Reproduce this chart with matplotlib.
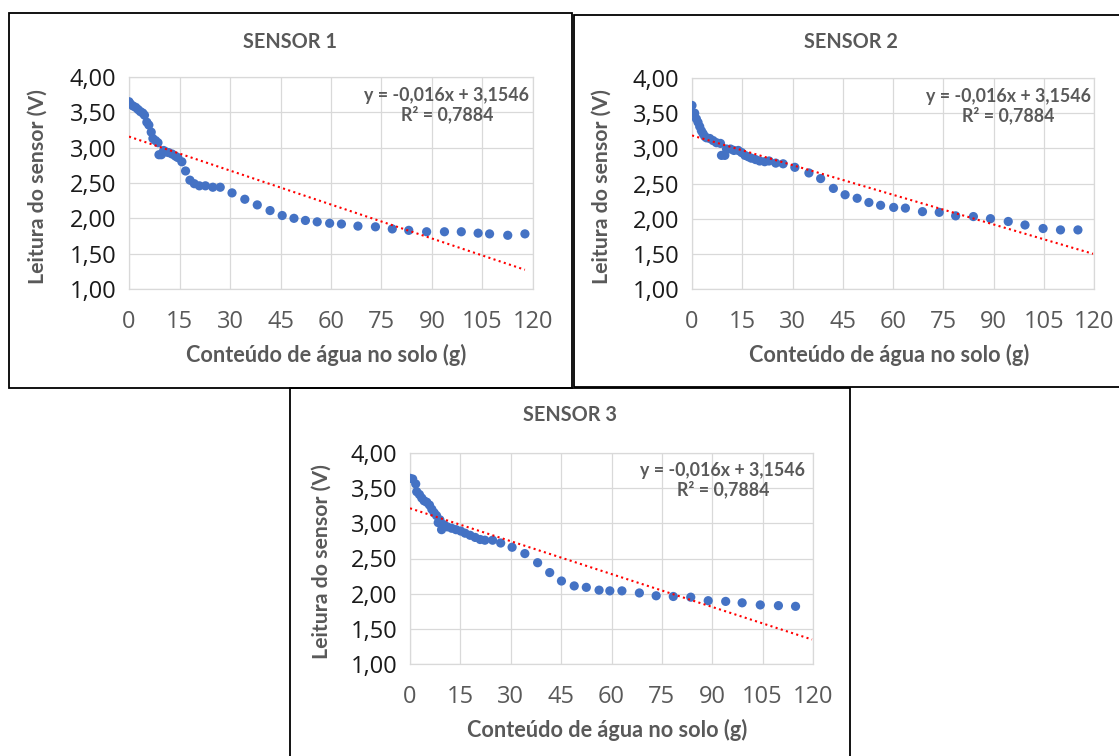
import numpy as np
import matplotlib
matplotlib.use("Agg")
import matplotlib.pyplot as plt
from matplotlib.patches import Rectangle
from matplotlib.ticker import FuncFormatter

W, H = 1119, 756
DPI = 100

# ---- data -------------------------------------------------------------
titles = ["SENSOR 1", "SENSOR 2", "SENSOR 3"]
x_label = "Conteúdo de água no solo (g)"
y_label = "Leitura do sensor (V)"
equation_text = "y = -0,016x + 3,1546\nR² = 0,7884"
x_ticks = [0, 15, 30, 45, 60, 75, 90, 105, 120]
y_ticks = [1.0, 1.5, 2.0, 2.5, 3.0, 3.5, 4.0]

s1_water = [0, 0.4, 1.2, 2.0, 2.7, 3.4, 4.1, 4.6, 5.3, 5.9, 6.6, 7.1, 7.9, 8.6,
            8.9, 9.6, 10.3, 11.0, 11.8, 12.8, 13.8, 14.5, 15.7, 16.8, 18.1,
            19.4, 20.9, 22.7, 24.9, 27.1, 30.6, 34.4, 38.1, 41.9, 45.5, 49.0,
            52.4, 55.9, 59.6, 63.1, 68.0, 73.2, 78.2, 83.1, 88.4, 93.7, 98.7,
            103.7, 107.1, 112.5, 117.6]
s1_volts = [3.65, 3.62, 3.59, 3.57, 3.54, 3.51, 3.49, 3.46, 3.36, 3.32, 3.22,
            3.13, 3.10, 3.07, 2.90, 2.90, 2.96, 2.94, 2.93, 2.91, 2.88, 2.86,
            2.80, 2.67, 2.54, 2.49, 2.46, 2.46, 2.44, 2.44, 2.36, 2.27, 2.19,
            2.11, 2.04, 2.00, 1.97, 1.95, 1.93, 1.92, 1.89, 1.88, 1.85, 1.83,
            1.81, 1.81, 1.81, 1.79, 1.78, 1.76, 1.78]

s2_water = [0, 0.8, 1.3, 1.8, 2.3, 2.8, 3.3, 3.8, 4.3, 5.3, 6.3, 7.3, 8.5, 8.8,
            9.8, 10.3, 11.5, 12.5, 13.8, 14.8, 15.8, 16.8, 17.7, 19.0, 20.2,
            21.7, 23.0, 25.0, 27.2, 30.7, 34.9, 38.4, 42.2, 45.7, 49.3, 52.8,
            56.3, 60.2, 63.7, 68.8, 73.8, 78.7, 84.0, 89.1, 94.4, 99.4, 104.8,
            110.0, 115.2]
s2_volts = [3.61, 3.50, 3.42, 3.37, 3.31, 3.25, 3.21, 3.17, 3.15, 3.14, 3.11,
            3.08, 3.07, 2.90, 2.90, 2.99, 2.99, 2.97, 2.97, 2.94, 2.90, 2.88,
            2.86, 2.84, 2.82, 2.81, 2.82, 2.79, 2.78, 2.73, 2.65, 2.57, 2.43,
            2.34, 2.29, 2.23, 2.19, 2.16, 2.15, 2.10, 2.09, 2.04, 2.03, 2.00,
            1.96, 1.91, 1.86, 1.84, 1.84]

s3_water = [0, 0.8, 1.7, 2.0, 2.8, 3.5, 4.2, 5.0, 5.8, 6.5, 7.2, 7.9, 8.4, 8.9,
            9.4, 10.1, 11.1, 12.4, 13.7, 15.1, 16.4, 17.9, 19.4, 20.9, 22.3,
            24.6, 27.0, 30.4, 34.2, 38.0, 41.6, 45.1, 48.9, 52.5, 56.3, 59.5,
            63.1, 68.3, 73.3, 78.4, 83.6, 88.8, 94.0, 98.9, 104.3, 109.7, 114.8]
s3_volts = [3.64, 3.63, 3.56, 3.45, 3.41, 3.36, 3.32, 3.30, 3.26, 3.20, 3.15,
            3.11, 3.01, 3.05, 2.91, 2.98, 2.95, 2.93, 2.91, 2.89, 2.86, 2.83,
            2.80, 2.77, 2.76, 2.76, 2.72, 2.66, 2.57, 2.44, 2.30, 2.18, 2.11,
            2.09, 2.05, 2.04, 2.04, 2.01, 1.97, 1.96, 1.95, 1.90, 1.89, 1.87,
            1.84, 1.83, 1.82]

# x range covered by each linear trendline
trend_end = [117.6, 119.7, 119.7]

# ---- styling ----------------------------------------------------------
BLUE = "#4472C4"
GRAY_TXT = "#595959"
GRID = "#d9d9d9"
TICK_FONT = "Open Sans"
LABEL_FONT = "Lato"

fig = plt.figure(figsize=(W / DPI, H / DPI), dpi=DPI)
fig.patch.set_facecolor("white")


def fx(px):
    return px / W


def fy(py):
    return 1 - py / H


def make_axes(left, top, right, bottom):
    return fig.add_axes([fx(left), fy(bottom), (right - left) / W, (bottom - top) / H])


def comma_fmt(v, _):
    return f"{v:.2f}".replace(".", ",")


panels = [
    # axes box (left, top, right, bottom), frame box, title pos, xlabel pos, ylabel pos, equation pos
    dict(box=(129, 77, 533, 289), frame=(9, 12.5, 571.5, 387.5),
         title=(290, 42), xlab=(326, 355), ylab=(38, 187), eq=(447, 105)),
    dict(box=(692, 78, 1094, 289), frame=(573.5, 14.5, 1130, 386.5),
         title=(851, 42), xlab=(889, 355), ylab=(602, 187), eq=(1008, 106)),
    dict(box=(410, 453, 813, 664), frame=(290, 387.5, 850, 770),
         title=(570, 415), xlab=(607, 730), ylab=(322, 562), eq=(723, 480)),
]
series = [(s1_water, s1_volts), (s2_water, s2_volts), (s3_water, s3_volts)]

for i, (p, (xw, yv)) in enumerate(zip(panels, series)):
    ax = make_axes(*p["box"])
    xw = np.asarray(xw)
    yv = np.asarray(yv)

    ax.set_xlim(0, 120)
    ax.set_ylim(1.0, 4.0)
    ax.set_xticks(x_ticks)
    ax.set_yticks(y_ticks)
    ax.yaxis.set_major_formatter(FuncFormatter(comma_fmt))
    ax.grid(True, color=GRID, linewidth=0.9, zorder=0)
    ax.set_axisbelow(True)
    for sp in ax.spines.values():
        sp.set_color(GRID)
        sp.set_linewidth(0.9)
    ax.tick_params(axis="both", length=0)
    ax.tick_params(axis="x", pad=15, labelsize=17, labelcolor=GRAY_TXT)
    ax.tick_params(axis="y", pad=9, labelsize=17, labelcolor="#1a1a1a")
    for lab in ax.get_xticklabels() + ax.get_yticklabels():
        lab.set_fontfamily(TICK_FONT)

    # data points
    ax.scatter(xw, yv, s=44, color=BLUE, edgecolors="none", zorder=3)

    # least-squares linear trendline
    slope, intercept = np.polyfit(xw, yv, 1)
    tx = np.array([0.0, trend_end[i]])
    ax.plot(tx, slope * tx + intercept, color="#FF0000", linewidth=1.5,
            linestyle=(0, (1, 1.6)), zorder=4)

    # text elements
    fig.text(fx(p["title"][0]), fy(p["title"][1]), titles[i], ha="center", va="center",
             fontsize=14.3, fontweight="bold", color=GRAY_TXT, family=LABEL_FONT)
    fig.text(fx(p["xlab"][0]), fy(p["xlab"][1]), x_label, ha="center", va="center",
             fontsize=15.6, fontweight="bold", color=GRAY_TXT, family=LABEL_FONT)
    fig.text(fx(p["ylab"][0]), fy(p["ylab"][1]), y_label, ha="center", va="center",
             rotation=90, fontsize=15.3, fontweight="bold", color=GRAY_TXT, family=LABEL_FONT)
    fig.text(fx(p["eq"][0]), fy(p["eq"][1]), equation_text, ha="center", va="center",
             multialignment="center", fontsize=12.8, fontweight="bold", color=GRAY_TXT,
             family=LABEL_FONT, linespacing=1.1)

    # chart frame
    x0, y0, x1, y1 = p["frame"]
    fig.add_artist(Rectangle((fx(x0), fy(y1)), (x1 - x0) / W, (y1 - y0) / H,
                             transform=fig.transFigure, fill=False,
                             edgecolor="black", linewidth=1.3, zorder=10))

fig.savefig("out.png", dpi=DPI, facecolor="white")
